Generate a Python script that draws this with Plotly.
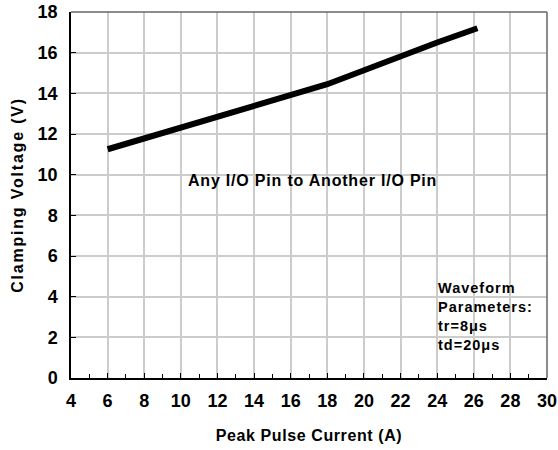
import plotly.graph_objects as go

current = [6, 18, 24, 26.2]
voltage = [11.25, 14.45, 16.5, 17.2]
x_ticks = list(range(4, 31, 2))
y_ticks = list(range(0, 19, 2))

FONT = "Liberation Sans, Arial, sans-serif"


def spaced(t, px):
    return f'<span style="letter-spacing:{px}px">{t}</span>'


fig = go.Figure()
fig.add_trace(go.Scatter(x=current, y=voltage, mode="lines",
                         line=dict(color="black", width=6), showlegend=False))

fig.update_xaxes(range=[4, 30], tickvals=x_ticks, ticks="inside", ticklen=5,
                 tickcolor="black", showgrid=True, gridcolor="#cccccc", gridwidth=1.5,
                 showline=True, linecolor="black", linewidth=1.5, mirror=False,
                 tickfont=dict(family=FONT, size=18, color="black", weight="bold"),
                 minor=dict(tickvals=list(range(5, 30, 2)), ticks="inside", ticklen=4,
                            tickcolor="black", showgrid=False),
                 ticklabelstandoff=6, ticklabeloverflow="allow", automargin=False,
                 title=dict(text=spaced("Peak Pulse Current (A)", 0.6), standoff=19,
                            font=dict(family=FONT, size=16, color="black", weight="bold")),
                 zeroline=False)
fig.update_yaxes(range=[0, 18], tickvals=y_ticks, ticks="inside", ticklen=5,
                 tickcolor="black", showgrid=True, gridcolor="#cccccc", gridwidth=1.5,
                 showline=True, linecolor="black", linewidth=1.5,
                 tickfont=dict(family=FONT, size=18, color="black", weight="bold"),
                 ticklabelstandoff=8, ticklabeloverflow="allow", automargin=False,
                 title=dict(text=spaced("Clamping Voltage (V)", 1.8), standoff=10,
                            font=dict(family=FONT, size=16, color="black", weight="bold")),
                 zeroline=False)

# top/right frame lines in gray
fig.add_shape(type="line", xref="paper", yref="paper", x0=0, x1=1, y0=1, y1=1,
              line=dict(color="#666666", width=1.5))
fig.add_shape(type="line", xref="paper", yref="paper", x0=1, x1=1, y0=0, y1=1,
              line=dict(color="#666666", width=1.5))

fig.add_annotation(x=17.2, y=9.7, text=spaced("Any I/O Pin to Another I/O Pin", 0.8),
                   showarrow=False,
                   font=dict(family=FONT, size=16, color="black", weight="bold"))
fig.add_annotation(x=23.95, y=4.9, xanchor="left", yanchor="top", align="left",
                   text=spaced("Waveform<br>Parameters:<br>tr=8μs<br>td=20μs", 1),
                   showarrow=False,
                   font=dict(family=FONT, size=14.5, color="black", weight="bold"))

fig.update_layout(width=558, height=450, margin=dict(l=71, r=11, t=12, b=72),
                  plot_bgcolor="white", paper_bgcolor="white")

fig.write_html("out.html", config={"displayModeBar": False},
               post_script="document.body.style.margin='0';document.body.style.overflow='hidden';")
